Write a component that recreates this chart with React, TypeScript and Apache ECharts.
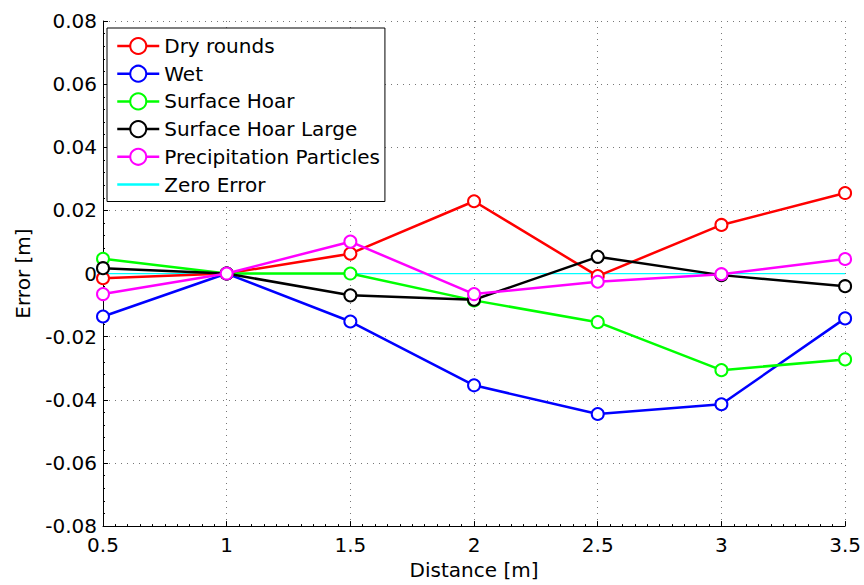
import React, { useEffect, useRef } from "react";
import * as echarts from "echarts";

const distances = [0.5, 1, 1.5, 2, 2.5, 3, 3.5];
const dryRounds = [-0.0015, 0, 0.0063, 0.0229, -0.0008, 0.0154, 0.0255];
const wet = [-0.0136, 0, -0.0152, -0.0354, -0.0445, -0.0414, -0.0142];
const surfaceHoar = [0.0047, 0, 0.0, -0.0085, -0.0154, -0.0306, -0.0272];
const surfaceHoarLarge = [0.0017, 0, -0.0069, -0.0083, 0.0053, -0.0005, -0.004];
const precipitation = [-0.0065, 0, 0.0101, -0.0065, -0.0026, -0.0002, 0.0046];
const zeroError = [0, 0, 0, 0, 0, 0, 0];

const seriesNames = [
  "Dry rounds",
  "Wet",
  "Surface Hoar",
  "Surface Hoar Large",
  "Precipitation Particles",
  "Zero Error",
];
const seriesColors = ["#ff0000", "#0000ff", "#00ff00", "#000000", "#ff00ff", "#00ffff"];
const seriesValues = [dryRounds, wet, surfaceHoar, surfaceHoarLarge, precipitation, zeroError];

const FONT = "DejaVu Sans, Liberation Sans, Arial, sans-serif";

export default function App() {
  const ref = useRef<HTMLDivElement>(null);
  useEffect(() => {
    if (!ref.current) return;
    const chart = echarts.init(ref.current, undefined, { renderer: "svg" });
    const series = seriesNames.map((name, i) => {
      const isZero = i === 5;
      return {
        name,
        type: "line",
        data: distances.map((d, j) => [d, seriesValues[i][j]]),
        symbol: isZero ? "none" : "emptyCircle",
        symbolSize: 12,
        z: isZero ? 2 : 3 + i,
        lineStyle: { color: seriesColors[i], width: isZero ? 1.2 : 2.5 },
        itemStyle: isZero
          ? { color: "rgba(0,0,0,0)", borderColor: "rgba(0,0,0,0)", borderWidth: 0 }
          : { color: seriesColors[i], borderColor: seriesColors[i], borderWidth: 2 },
        emphasis: { disabled: true },
      };
    });
    chart.setOption({
      animation: false,
      textStyle: { fontFamily: FONT },
      grid: { left: 103, right: 17, top: 21, bottom: 57, containLabel: false },
      legend: {
        show: true,
        orient: "vertical",
        left: 107,
        top: 28,
        data: seriesNames,
        backgroundColor: "#ffffff",
        borderColor: "#000000",
        borderWidth: 1,
        padding: [8, 5, 7, 9],
        itemWidth: 42,
        itemHeight: 20,
        itemGap: 7.7,
        lineStyle: { width: 2.5 },
        textStyle: { fontSize: 20, color: "#000", fontFamily: FONT, lineHeight: 20 },
        selectedMode: false,
      },
      xAxis: {
        type: "value",
        min: 0.5,
        max: 3.5,
        interval: 0.5,
        name: "Distance [m]",
        nameLocation: "middle",
        nameGap: 32,
        nameTextStyle: { fontSize: 20, color: "#000", fontFamily: FONT },
        axisLine: { show: true, onZero: false, lineStyle: { color: "#000", width: 1 } },
        axisTick: { show: true, inside: true, length: 5, lineStyle: { color: "#000" } },
        minorTick: { show: true, splitNumber: 10, length: 2, lineStyle: { color: "#000" } },
        axisLabel: { fontSize: 20, color: "#000", margin: 9, fontFamily: FONT },
        splitLine: { show: true, lineStyle: { color: "#777", type: [1, 5], width: 1 } },
      },
      yAxis: {
        type: "value",
        min: -0.08,
        max: 0.08,
        interval: 0.02,
        name: "Error [m]",
        nameLocation: "middle",
        nameGap: 70,
        nameRotate: 90,
        nameTextStyle: { fontSize: 20, color: "#000", fontFamily: FONT },
        axisLine: { show: true, onZero: false, lineStyle: { color: "#000", width: 1 } },
        axisTick: { show: true, inside: true, length: 5, lineStyle: { color: "#000" } },
        minorTick: { show: true, splitNumber: 5, length: 2, lineStyle: { color: "#000" } },
        axisLabel: {
          fontSize: 20,
          color: "#000",
          margin: 6,
          fontFamily: FONT,
          formatter: (v: number) => (Math.abs(v) < 1e-9 ? "0" : v.toFixed(2)),
        },
        splitLine: { show: true, lineStyle: { color: "#777", type: [1, 5], width: 1 } },
      },
      series,
    });
    return () => chart.dispose();
  }, []);
  return (
    <div
      ref={ref}
      style={{ position: "fixed", left: 0, top: 0, width: 864, height: 585, background: "#fff" }}
    />
  );
}
